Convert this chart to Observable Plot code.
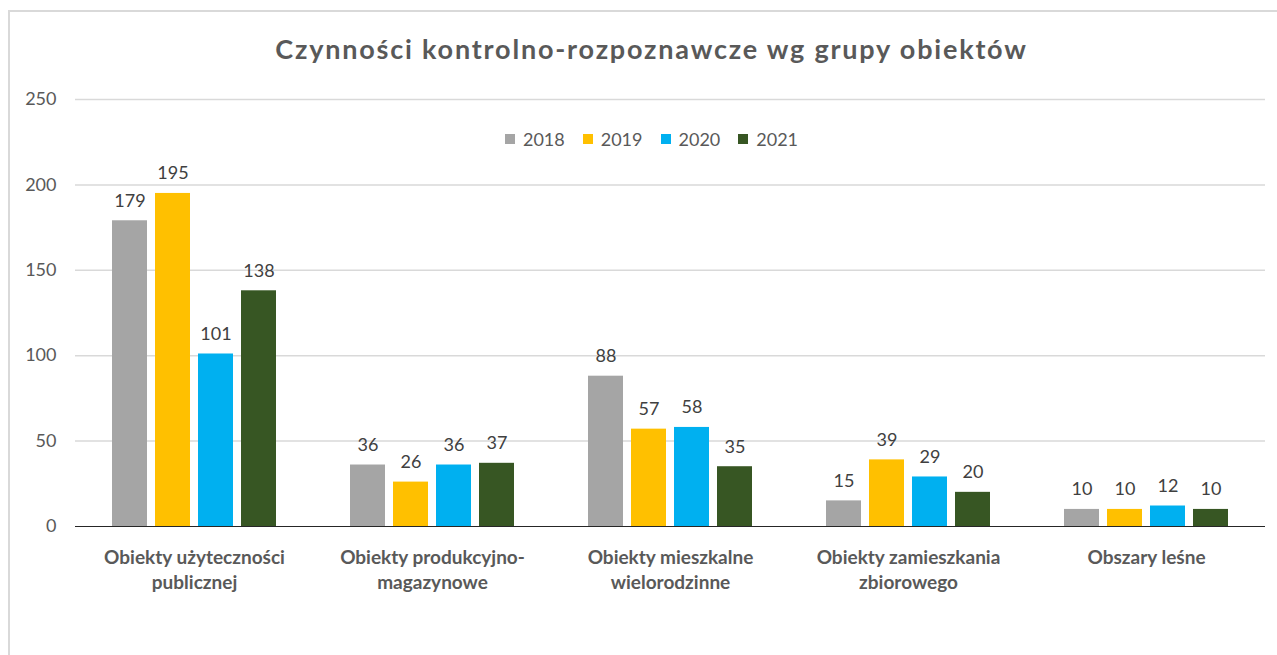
<!DOCTYPE html>
<html><head><meta charset="utf-8">
<script src="https://cdn.jsdelivr.net/npm/d3@7"></script>
<script src="https://cdn.jsdelivr.net/npm/@observablehq/plot@0.6"></script>
<style>
body{margin:0;background:#fff;font-family:Lato,sans-serif}
#wrap{position:relative;width:1277px;height:655px;overflow:hidden;background:#fff}
#frame{position:absolute;left:8px;top:10px;width:1300px;height:700px;border-left:2px solid #d9d9d9;border-top:2px solid #d9d9d9;box-sizing:border-box}
#title{position:absolute;left:0;width:1277px;top:32px;text-align:center;font-weight:700;font-size:27px;letter-spacing:1.8px;color:#595959;line-height:34px;padding-left:26px;box-sizing:border-box}
#chart{position:absolute;left:0;top:0}
#legend{position:absolute;top:127px;left:0;width:1277px;display:flex;justify-content:center;font-size:18px;color:#595959;line-height:24px;padding-left:26px;box-sizing:border-box}
#legend .item{display:flex;align-items:center;margin:0 9px}
#legend .sw{width:10px;height:10px;margin-right:8px}
svg [aria-label="fx-axis tick label"]{font-weight:700}
</style></head>
<body>
<div id="wrap">
  <div id="frame"></div>
  <div id="chart"></div>
  <div id="title"></div>
  <div id="legend"></div>
</div>
<script>
const title = "Czynności kontrolno-rozpoznawcze wg grupy obiektów";
const categories = ["Obiekty użyteczności publicznej","Obiekty produkcyjno-magazynowe","Obiekty mieszkalne wielorodzinne","Obiekty zamieszkania zbiorowego","Obszary leśne"];
const categoryLabels = ["Obiekty użyteczności\npublicznej","Obiekty produkcyjno-\nmagazynowe","Obiekty mieszkalne\nwielorodzinne","Obiekty zamieszkania\nzbiorowego","Obszary leśne"];
const years = ["2018","2019","2020","2021"];
const v2018 = [179,36,88,15,10];
const v2019 = [195,26,57,39,10];
const v2020 = [101,36,58,29,12];
const v2021 = [138,37,35,20,10];
const colors = ["#a5a5a5","#ffc000","#00b0f0","#375623"];
const yTicks = [0,50,100,150,200,250];

const series = [v2018,v2019,v2020,v2021];
const data = [];
categories.forEach((c,i)=>years.forEach((y,j)=>data.push({cat:c, year:y, value:series[j][i]})));

document.getElementById("title").textContent = title;
const leg = document.getElementById("legend");
years.forEach((y,j)=>{
  const it = document.createElement("div"); it.className="item";
  const sw = document.createElement("div"); sw.className="sw"; sw.style.background=colors[j];
  const tx = document.createElement("span"); tx.textContent=y;
  it.appendChild(sw); it.appendChild(tx); leg.appendChild(it);
});

const labelMap = new Map(categories.map((c,i)=>[c,categoryLabels[i]]));

const chart = Plot.plot({
  width:1277, height:655,
  marginLeft:75, marginRight:12, marginTop:99, marginBottom:129,
  style:{fontFamily:"Lato, sans-serif", background:"transparent"},
  fx:{domain:categories, padding:0, label:null},
  x:{domain:years, paddingInner:0.186, paddingOuter:0.86, axis:null},
  y:{domain:[0,250], label:null},
  color:{domain:years, range:colors},
  marks:[
    Plot.ruleY(yTicks.filter(d=>d>0), {stroke:"#d9d9d9", strokeWidth:1.5}),
    Plot.axisY(yTicks, {tickSize:0, tickPadding:19, fontSize:18, fill:"#595959", label:null}),
    Plot.axisFx({anchor:"bottom", tickSize:0, tickPadding:20, fontSize:19, fill:"#595959", lineHeight:1.3, tickFormat:d=>labelMap.get(d), label:null}),
    Plot.barY(data, {fx:"cat", x:"year", y:"value", fill:"year"}),
    Plot.ruleY([0], {stroke:"#262626", strokeWidth:1}),
    Plot.text(data, {fx:"cat", x:"year", y:"value", text:d=>String(d.value), lineAnchor:"bottom", dy:-14, fontSize:18, fill:"#404040"})
  ]
});
document.getElementById("chart").appendChild(chart);
</script>
</body></html>
